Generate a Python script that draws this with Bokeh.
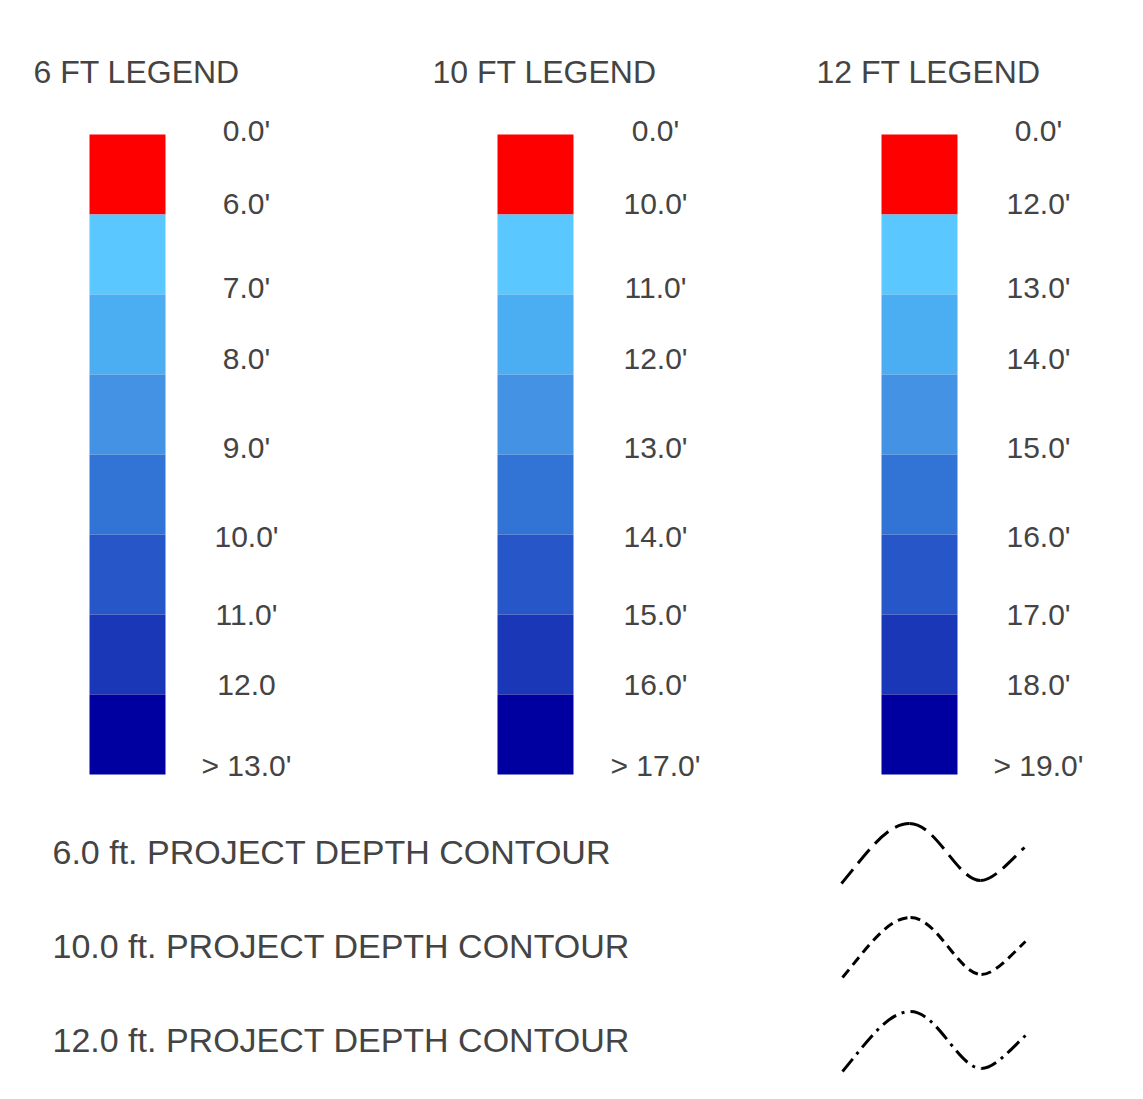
from bokeh.plotting import figure
from bokeh.models import Range1d, ColumnDataSource
from bokeh.core.properties import value
from bokeh.embed import file_html
from bokeh.resources import INLINE

# ---------------- data ----------------
legend_titles = ["6 FT LEGEND", "10 FT LEGEND", "12 FT LEGEND"]
band_colors = ["#FF0000", "#5AC8FF", "#4BADF2", "#4392E3", "#3274D6",
               "#2756C8", "#1A37B8", "#0000A0"]
labels_6 = ["0.0'", "6.0'", "7.0'", "8.0'", "9.0'", "10.0'", "11.0'", "12.0", "> 13.0'"]
labels_10 = ["0.0'", "10.0'", "11.0'", "12.0'", "13.0'", "14.0'", "15.0'", "16.0'", "> 17.0'"]
labels_12 = ["0.0'", "12.0'", "13.0'", "14.0'", "15.0'", "16.0'", "17.0'", "18.0'", "> 19.0'"]
contour_labels = ["6.0 ft. PROJECT DEPTH CONTOUR",
                  "10.0 ft. PROJECT DEPTH CONTOUR",
                  "12.0 ft. PROJECT DEPTH CONTOUR"]
contour_dashes = ["18 8", "10 6", "16 6 3 6"]

# ---------------- layout constants ----------------
W, H = 1127, 1083
title_x = [33, 432, 816]
title_y = 71
bar_left = [89, 497, 881]
bar_w = 76
bar_top = 134
band_h = 80
label_cx = [246, 655, 1038]
label_y = [130, 203, 287, 358, 447, 536, 614, 684, 765]
contour_text_x = 52
contour_y = [851, 945, 1039]
wave_x0 = [841, 842, 842]
TEXT_COLOR = "#444444"
FONT = value("Liberation Sans")

p = figure(width=W, height=H, output_backend="svg", toolbar_location=None,
           x_range=Range1d(0, W), y_range=Range1d(H, 0),
           min_border=0, outline_line_color=None, background_fill_color="white",
           border_fill_color="white")
p.axis.visible = False
p.grid.visible = False

# titles
p.text(x=title_x, y=[title_y] * 3, text=legend_titles, text_font=FONT,
       text_font_size="32px", text_color=TEXT_COLOR, text_align="left",
       text_baseline="middle")

# color bars
for bl in bar_left:
    n = len(band_colors)
    src = ColumnDataSource(dict(
        left=[bl] * n, right=[bl + bar_w] * n,
        top=[bar_top + i * band_h for i in range(n)],
        bottom=[bar_top + (i + 1) * band_h for i in range(n)],
        color=band_colors))
    p.quad(left="left", right="right", top="top", bottom="bottom",
           fill_color="color", line_color=None, source=src)

# labels
for cx, labs in zip(label_cx, [labels_6, labels_10, labels_12]):
    p.text(x=[cx] * len(labs), y=label_y, text=labs, text_font=FONT,
           text_font_size="30px", text_color=TEXT_COLOR, text_align="center",
           text_baseline="middle")

# contour texts
p.text(x=[contour_text_x] * 3, y=contour_y, text=contour_labels, text_font=FONT,
       text_font_size="34px", text_color=TEXT_COLOR, text_align="left",
       text_baseline="middle")

# wave symbols (three cubic segments each)
for x0, yc, dash in zip(wave_x0, contour_y, contour_dashes):
    y0 = yc + 32
    xs0 = [x0, x0 + 68, x0 + 139]
    ys0 = [y0, y0 - 60, y0 - 3]
    xs1 = [x0 + 68, x0 + 139, x0 + 183]
    ys1 = [y0 - 60, y0 - 3, y0 - 36]
    cx0 = [x0 + 25, x0 + 95, x0 + 152]
    cy0 = [y0 - 30, y0 - 60, y0 - 3]
    cx1 = [x0 + 45, x0 + 116, x0 + 168]
    cy1 = [y0 - 60, y0 - 3, y0 - 22]
    p.bezier(x0=xs0, y0=ys0, x1=xs1, y1=ys1, cx0=cx0, cy0=cy0, cx1=cx1, cy1=cy1,
             line_color="black", line_width=3, line_dash=dash)

open("out.html", "w").write(file_html(p, INLINE))
